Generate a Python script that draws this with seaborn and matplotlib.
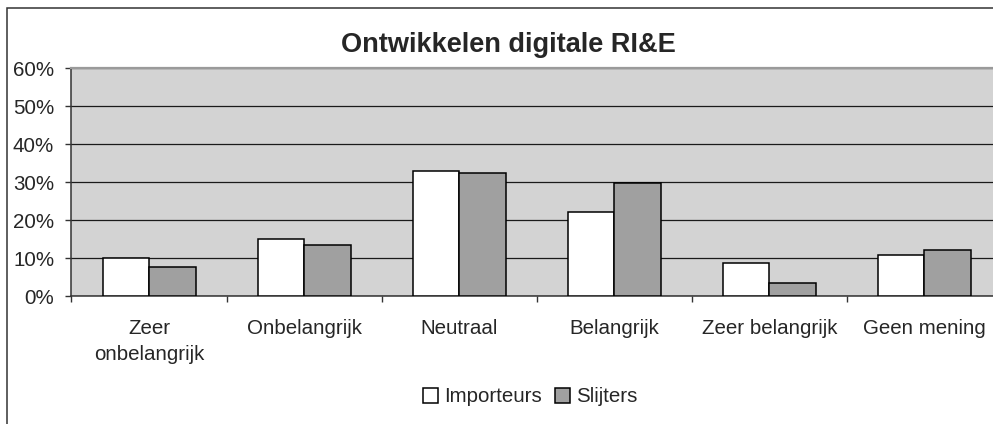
import numpy as np
import pandas as pd
import seaborn as sns
import matplotlib.pyplot as plt
from matplotlib.ticker import PercentFormatter, FixedLocator
from matplotlib.patches import Rectangle

categorieen = ["Zeer\nonbelangrijk", "Onbelangrijk", "Neutraal", "Belangrijk",
               "Zeer belangrijk", "Geen mening"]
importeurs = [0.100, 0.152, 0.331, 0.221, 0.089, 0.110]
slijters = [0.078, 0.136, 0.325, 0.299, 0.036, 0.121]
groepen = ["Importeurs", "Slijters"]
y_ticks = [0.0, 0.1, 0.2, 0.3, 0.4, 0.5, 0.6]

df = pd.DataFrame({
    "categorie": categorieen * 2,
    "aandeel": importeurs + slijters,
    "groep": [groepen[0]] * len(categorieen) + [groepen[1]] * len(categorieen),
})

sns.set_style("white")
plt.rcParams["font.family"] = ["Liberation Sans", "DejaVu Sans"]
plt.rcParams["font.size"] = 14.8

fig = plt.figure(figsize=(9.93, 4.24), dpi=100)
ax = fig.add_axes([0.072, 0.301, 0.937, 0.538])
ax.set_facecolor("#d3d3d3")

sns.barplot(data=df, x="categorie", y="aandeel", hue="groep",
            palette=["white", "#a0a0a0"], edgecolor="black", linewidth=1.1,
            width=0.6, gap=0, ax=ax, zorder=3)

ax.set_ylim(0, 0.6)
ax.set_xlim(-0.5, len(categorieen) - 0.5)
ax.set_yticks(y_ticks)
ax.yaxis.set_major_formatter(PercentFormatter(1.0, decimals=0))
ax.yaxis.grid(True, color="#1a1a1a", linewidth=0.9)
ax.set_axisbelow(True)
ax.set_xlabel("")
ax.set_ylabel("")

ax.tick_params(axis="y", direction="out", length=4.5, width=1, color="#333333",
               pad=8, labelsize=14.8, left=True)
ax.tick_params(axis="x", which="major", length=0, pad=16, labelsize=14.8)
ax.xaxis.set_minor_locator(FixedLocator(np.arange(-0.5, len(categorieen), 1.0)))
ax.tick_params(axis="x", which="minor", direction="out", length=4.5, width=1,
               color="#333333", bottom=True)
for lbl in ax.get_xticklabels():
    lbl.set_linespacing(1.5)

for side in ["left", "bottom"]:
    ax.spines[side].set_color("#333333")
    ax.spines[side].set_linewidth(1.1)
ax.spines["top"].set_color("#9a9a9a")
ax.spines["top"].set_linewidth(1.6)
ax.spines["right"].set_visible(False)

handles, labels = ax.get_legend_handles_labels()
ax.get_legend().remove()
for h in handles:
    h.set_edgecolor("black")
    h.set_linewidth(1.1)
fig.legend(handles, labels, loc="center", bbox_to_anchor=(0.534, 0.064),
           ncol=2, frameon=False, fontsize=14.8, handlelength=0.75,
           handleheight=0.75, handletextpad=0.3, columnspacing=0.6)

fig.text(0.512, 0.878, "Ontwikkelen digitale RI&E", ha="center", va="baseline",
         fontsize=19.5, fontweight="bold")

fig.add_artist(Rectangle((0.007, -0.1), 1.2, 1.1 - 8 / 424, transform=fig.transFigure,
                         fill=False, edgecolor="#333333", linewidth=1.1))

plt.savefig("out.png", dpi=100)
